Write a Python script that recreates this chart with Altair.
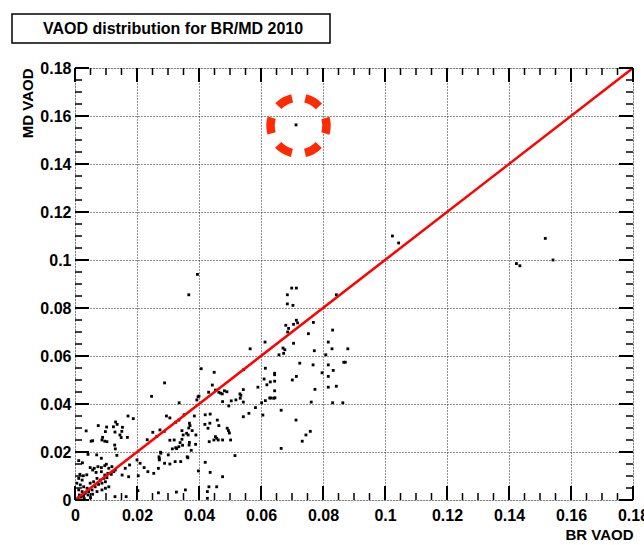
import altair as alt
import pandas as pd

# ---- data ----
br_vaod = [
    0.0713, 0.1024, 0.1044, 0.1517, 0.1424, 0.1435, 0.1542, 0.0395, 0.0367, 0.0843,
    0.0699, 0.0714, 0.0685, 0.0685, 0.0703, 0.0714, 0.0718, 0.0680, 0.0705, 0.0689,
    0.0686, 0.0769, 0.0831, 0.0753, 0.0613, 0.0705, 0.0817, 0.0671, 0.0677, 0.0772,
    0.0829, 0.0880, 0.0658, 0.0673, 0.0809, 0.0725, 0.0768, 0.0817, 0.0867, 0.0872,
    0.0614, 0.0833, 0.0644, 0.0644, 0.0797, 0.0714, 0.0817, 0.0610, 0.0701, 0.0630,
    0.0644, 0.0619, 0.0590, 0.0817, 0.0843, 0.0774, 0.0644, 0.0628, 0.0632, 0.0641,
    0.0645, 0.0614, 0.0602, 0.0762, 0.0831, 0.0864, 0.0665,
    0.0565, 0.0407, 0.0449, 0.0544, 0.0289, 0.0443, 0.0453, 0.0482, 0.0490, 0.0464,
    0.0470, 0.0475, 0.0431, 0.0532, 0.0535, 0.0543, 0.0247, 0.0336, 0.0393, 0.0397,
    0.0400, 0.0476, 0.0496, 0.0504, 0.0519, 0.0533, 0.0543, 0.0561, 0.0543, 0.0606,
    0.0713, 0.0745, 0.0759, 0.0733, 0.0665, 0.0516, 0.0295, 0.0306, 0.0325, 0.0335,
    0.0352, 0.0385, 0.0420, 0.0436, 0.0419, 0.0435, 0.0429, 0.0459, 0.0464, 0.0491,
    0.0495, 0.0498, 0.0453, 0.0457, 0.0448, 0.0462, 0.0476, 0.0502, 0.0433, 0.0369,
    0.0371, 0.0367, 0.0345, 0.0360, 0.0349, 0.0365, 0.0378, 0.0369, 0.0368, 0.0345,
    0.0339, 0.0320, 0.0328, 0.0274, 0.0251, 0.0264, 0.0233, 0.0288, 0.0306, 0.0314,
    0.0325, 0.0335, 0.0347, 0.0375, 0.0276, 0.0362, 0.0272, 0.0389, 0.0390, 0.0582,
    0.0269, 0.0289, 0.0306, 0.0323, 0.0341, 0.0364, 0.0420, 0.0398, 0.0436, 0.0476,
    0.0432, 0.0269, 0.0327, 0.0427, 0.0271, 0.0277, 0.0301, 0.0272,
    0.0171, 0.0188, 0.0131, 0.0136, 0.0124, 0.0153, 0.0151, 0.0145, 0.0102, 0.0075,
    0.0129, 0.0089, 0.0096, 0.0087, 0.0036, 0.0052, 0.0169, 0.0070, 0.0085, 0.0135,
    0.0024, 0.0038, 0.0027, 0.0016, 0.0173, 0.0204, 0.0210, 0.0223, 0.0235, 0.0203,
    0.0098, 0.0103, 0.0057, 0.0149, 0.0128, 0.0130, 0.0042, 0.0200, 0.0012, 0.0152,
    0.0162, 0.0254, 0.0176,
    0.0062, 0.0074, 0.0085, 0.0096, 0.0101, 0.0109, 0.0119, 0.0125, 0.0130, 0.0117,
    0.0106, 0.0096, 0.0085, 0.0068, 0.0057, 0.0049,
    0.0012, 0.0023, 0.0006, 0.0017, 0.0028, 0.0039, 0.0012, 0.0023, 0.0033, 0.0044,
    0.0055, 0.0065, 0.0076, 0.0087, 0.0098, 0.0049, 0.0060, 0.0071, 0.0082, 0.0093,
    0.0103, 0.0014, 0.0028, 0.0042, 0.0057, 0.0071, 0.0087, 0.0098, 0.0109,
    0.0129, 0.0165, 0.0356, 0.0427, 0.0457, 0.0010, 0.0030, 0.0050, 0.0020,
]
md_vaod = [
    0.1563, 0.1100, 0.1071, 0.1090, 0.0985, 0.0976, 0.1000, 0.0940, 0.0855, 0.0855,
    0.0883, 0.0883, 0.0855, 0.0817, 0.0811, 0.0749, 0.0738, 0.0728, 0.0732, 0.0715,
    0.0700, 0.0740, 0.0708, 0.0693, 0.0658, 0.0653, 0.0658, 0.0633, 0.0626, 0.0622,
    0.0630, 0.0630, 0.0605, 0.0611, 0.0605, 0.0570, 0.0563, 0.0563, 0.0574, 0.0574,
    0.0549, 0.0540, 0.0528, 0.0522, 0.0530, 0.0515, 0.0515, 0.0504, 0.0500, 0.0492,
    0.0495, 0.0480, 0.0470, 0.0470, 0.0474, 0.0461, 0.0455, 0.0425, 0.0425, 0.0424,
    0.0426, 0.0414, 0.0405, 0.0408, 0.0405, 0.0405, 0.0374,
    0.0630, 0.0547, 0.0532, 0.0543, 0.0488, 0.0479, 0.0458, 0.0455, 0.0451, 0.0449,
    0.0445, 0.0442, 0.0449, 0.0442, 0.0436, 0.0460, 0.0432, 0.0405, 0.0417, 0.0430,
    0.0433, 0.0410, 0.0392, 0.0413, 0.0417, 0.0424, 0.0408, 0.0361, 0.0347, 0.0354,
    0.0333, 0.0271, 0.0286, 0.0245, 0.0215, 0.0185, 0.0350, 0.0342, 0.0324, 0.0333,
    0.0355, 0.0350, 0.0355, 0.0358, 0.0315, 0.0320, 0.0299, 0.0333, 0.0310, 0.0299,
    0.0289, 0.0279, 0.0264, 0.0257, 0.0250, 0.0250, 0.0250, 0.0250, 0.0243, 0.0320,
    0.0310, 0.0300, 0.0289, 0.0278, 0.0271, 0.0271, 0.0289, 0.0240, 0.0229, 0.0253,
    0.0239, 0.0250, 0.0214, 0.0292, 0.0282, 0.0265, 0.0251, 0.0286, 0.0249, 0.0213,
    0.0218, 0.0222, 0.0228, 0.0207, 0.0199, 0.0180, 0.0172, 0.0232, 0.0271, 0.0385,
    0.0132, 0.0153, 0.0150, 0.0160, 0.0160, 0.0176, 0.0157, 0.0121, 0.0115, 0.0097,
    0.0055, 0.0030, 0.0033, 0.0007, 0.0180, 0.0195, 0.0188, 0.0167,
    0.0350, 0.0339, 0.0325, 0.0315, 0.0305, 0.0303, 0.0286, 0.0271, 0.0304, 0.0310,
    0.0283, 0.0261, 0.0245, 0.0250, 0.0288, 0.0245, 0.0261, 0.0188, 0.0174, 0.0186,
    0.0155, 0.0105, 0.0101, 0.0107, 0.0097, 0.0101, 0.0153, 0.0135, 0.0118, 0.0039,
    0.0285, 0.0243, 0.0247, 0.0260, 0.0229, 0.0213, 0.0190, 0.0167, 0.0164, 0.0104,
    0.0132, 0.0111, 0.0146,
    0.0132, 0.0139, 0.0135, 0.0143, 0.0149, 0.0132, 0.0139, 0.0118, 0.0125, 0.0107,
    0.0111, 0.0104, 0.0118, 0.0115, 0.0125, 0.0135,
    0.0090, 0.0083, 0.0070, 0.0063, 0.0055, 0.0049, 0.0042, 0.0035, 0.0028, 0.0035,
    0.0042, 0.0055, 0.0065, 0.0070, 0.0076, 0.0070, 0.0076, 0.0090, 0.0083, 0.0090,
    0.0093, 0.0021, 0.0018, 0.0021, 0.0024, 0.0035, 0.0042, 0.0049, 0.0055,
    0.0014, 0.0014, 0.0042, 0.0035, 0.0055, 0.0008, 0.0006, 0.0010, 0.0012,
]

# 1:1 reference line
line_x = [0.0, 0.18]
line_y = [0.0, 0.18]

# highlighted point (dashed circle)
circle_x = [0.0721]
circle_y = [0.1560]

major_ticks = [round(i * 0.02, 2) for i in range(10)]
minor_ticks = [round(i * 0.005, 3) for i in range(37) if i % 4 != 0]

title_text = "VAOD distribution for BR/MD 2010"
x_title = "BR VAOD"
y_title = "MD VAOD"

# ---- styling ----
FONT = "Liberation Sans, Arial, Helvetica, sans-serif"
W, H = 558, 432
MAJOR_LEN, MINOR_LEN = 14, 7

xs = alt.Scale(domain=[0, 0.18], nice=False, zero=False)
ys = alt.Scale(domain=[0, 0.18], nice=False, zero=False)

pts = pd.DataFrame({"br": br_vaod, "md": md_vaod})

points = alt.Chart(pts).mark_square(size=8, color="black", opacity=1, filled=True).encode(
    x=alt.X("br:Q", scale=xs, axis=alt.Axis(
        values=major_ticks, format="~g", grid=True, gridDash=[1, 2], gridColor="#222",
        gridWidth=1, ticks=False, domain=False,
        labelFont=FONT, labelFontSize=16, labelFontWeight="bold", labelColor="black",
        labelPadding=7, labelFlush=False,
        title=x_title, titleAnchor="end", titleFont=FONT, titleFontSize=15,
        titleFontWeight="bold", titleColor="black", titlePadding=4)),
    y=alt.Y("md:Q", scale=ys, axis=alt.Axis(
        values=major_ticks, format="~g", grid=True, gridDash=[1, 2], gridColor="#222",
        gridWidth=1, ticks=False, domain=False,
        labelFont=FONT, labelFontSize=16, labelFontWeight="bold", labelColor="black",
        labelPadding=4, labelFlush=False,
        title=y_title, titleAnchor="end", titleFont=FONT, titleFontSize=15,
        titleFontWeight="bold", titleColor="black", titlePadding=4)),
)

ref_line = alt.Chart(pd.DataFrame({"x": line_x, "y": line_y})).mark_line(
    color="#ff0000", strokeWidth=2.5).encode(
    x=alt.X("x:Q", scale=xs, axis=None), y=alt.Y("y:Q", scale=ys, axis=None))

circle = alt.Chart(pd.DataFrame({"x": circle_x, "y": circle_y})).mark_point(
    shape="circle", size=3136, filled=False, color="#ff2a00", strokeWidth=8.5,
    strokeDash=[16, 13.32], strokeDashOffset=8, opacity=1).encode(
    x=alt.X("x:Q", scale=xs, axis=None), y=alt.Y("y:Q", scale=ys, axis=None))

maj = pd.DataFrame({"t": major_ticks})
mnr = pd.DataFrame({"t": minor_ticks})


def xticks(df, length, sw):
    b = alt.Chart(df).mark_rule(color="black", strokeWidth=sw).encode(
        x=alt.X("t:Q", scale=xs, axis=None), y=alt.value(H), y2=alt.value(H - length))
    t = alt.Chart(df).mark_rule(color="black", strokeWidth=sw).encode(
        x=alt.X("t:Q", scale=xs, axis=None), y=alt.value(0), y2=alt.value(length))
    return [b, t]


def yticks(df, length, sw):
    l = alt.Chart(df).mark_rule(color="black", strokeWidth=sw).encode(
        y=alt.Y("t:Q", scale=ys, axis=None), x=alt.value(0), x2=alt.value(length))
    r = alt.Chart(df).mark_rule(color="black", strokeWidth=sw).encode(
        y=alt.Y("t:Q", scale=ys, axis=None), x=alt.value(W), x2=alt.value(W - length))
    return [l, r]


tick_layers = (xticks(maj, MAJOR_LEN, 2) + xticks(mnr, MINOR_LEN, 1.5)
               + yticks(maj, MAJOR_LEN, 2) + yticks(mnr, MINOR_LEN, 1.5))

tdf = pd.DataFrame({"label": [title_text]})
title_box = alt.Chart(tdf).mark_rect(fill="white", stroke="black", strokeWidth=1.5).encode(
    x=alt.value(-63), x2=alt.value(255), y=alt.value(-54), y2=alt.value(-25))
title_txt = alt.Chart(tdf).mark_text(
    font=FONT, fontSize=16, fontWeight="bold", color="black", align="center",
    baseline="middle").encode(x=alt.value(98), y=alt.value(-39), text="label:N")

chart = alt.layer(points, ref_line, circle, *tick_layers, title_box, title_txt).resolve_axis(
    x="independent", y="independent"
).properties(
    width=W, height=H,
    autosize=alt.AutoSizeParams(type="none"),
    padding={"left": 75, "top": 68, "right": 11, "bottom": 45},
).configure_view(stroke="black", strokeWidth=2.5, fill="white").configure(background="white")

chart.save("out.html", embed_options={"renderer": "svg", "actions": False})
